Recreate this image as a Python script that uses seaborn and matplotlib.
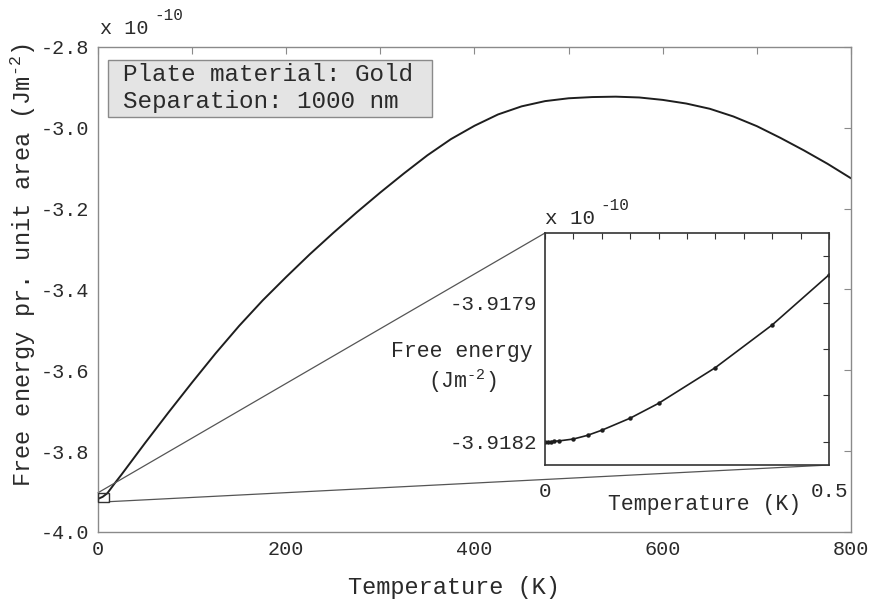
import numpy as np
import pandas as pd
import matplotlib
matplotlib.use("Agg")
import matplotlib.pyplot as plt
from matplotlib.patches import Rectangle, ConnectionPatch
import seaborn as sns

# Main curve: free energy (x 1e-10 J/m^2) vs temperature (K)
TEMP_K = [0, 5, 10, 18, 25, 50, 75, 100, 125, 150, 175, 200, 225, 250, 275, 300,
          325, 350, 375, 400, 425, 450, 475, 500, 525, 550, 575, 600, 625, 650,
          675, 700, 725, 750, 775, 800]
FREE_E = [-3.9182, -3.913, -3.904, -3.879, -3.858, -3.780, -3.704, -3.630, -3.558,
          -3.490, -3.427, -3.369, -3.313, -3.260, -3.209, -3.160, -3.113, -3.068,
          -3.028, -2.995, -2.967, -2.947, -2.934, -2.927, -2.924, -2.923, -2.925,
          -2.931, -2.940, -2.953, -2.972, -2.996, -3.025, -3.056, -3.089, -3.125]

# Inset: low temperature detail
INSET_T = [0, 0.005, 0.01, 0.015, 0.025, 0.05, 0.075, 0.1, 0.15, 0.2, 0.3, 0.4, 0.5]
INSET_E = [-3.918200, -3.918200, -3.918200, -3.918199, -3.918198, -3.918194,
           -3.918186, -3.918175, -3.918149, -3.918117, -3.918040, -3.917948,
           -3.917840]

# zoom box in main axes (data units)
BOX_T = (0, 12)
BOX_E = (-3.925, -3.903)

sns.set_style("white")
plt.rcParams['font.family'] = ['Liberation Mono', 'DejaVu Sans Mono']
plt.rcParams['mathtext.fontset'] = 'custom'
plt.rcParams['mathtext.rm'] = 'Liberation Mono'
plt.rcParams['mathtext.default'] = 'regular'
plt.rcParams['axes.unicode_minus'] = False

TXT = '#2a2a2a'
GRAY = '#8a8a8a'

fig = plt.figure(figsize=(8.74, 6.05), dpi=100)
ax = fig.add_axes([0.1121, 0.1207, 0.8616, 0.8017])

main_df = pd.DataFrame({"T": TEMP_K, "F": FREE_E})
sns.lineplot(data=main_df, x="T", y="F", ax=ax, color='#1e1e1e', linewidth=1.4)

ax.set_xlim(0, 800)
ax.set_ylim(-4.0, -2.8)
ax.set_xticks(np.arange(0, 801, 100))
ax.set_xticklabels([str(v) if v % 200 == 0 else "" for v in range(0, 801, 100)])
ax.set_yticks(np.arange(-4.0, -2.79, 0.2))
ax.set_yticklabels([f"{v:.1f}" for v in np.arange(-4.0, -2.79, 0.2)])
ax.tick_params(direction='in', length=5, width=0.8, color=GRAY, labelsize=14.5,
               labelcolor=TXT, top=True, right=True, pad=6)
for sp in ax.spines.values():
    sp.set_color(GRAY)
    sp.set_linewidth(1.0)

ax.set_xlabel("Temperature (K)", fontsize=17, color=TXT)
ax.xaxis.label.set_va('center')
ax.xaxis.set_label_coords(0.4728, -0.1155)
ax.set_ylabel(r"Free energy pr. unit area (Jm$^{\text{-2}}$)", fontsize=17, color=TXT)
ax.yaxis.label.set_va('center')
ax.yaxis.set_label_coords(-0.0996, 0.5505)

# "x 10^-10" scale marks
fig.text(100 / 874, 1 - 28 / 605, "x 10", fontsize=14.5, color=TXT, ha='left', va='center')
fig.text(154 / 874, 1 - 15 / 605, "-10", fontsize=11.5, color=TXT, ha='left', va='center')

# info box
ax.add_patch(Rectangle((0.0133, 0.8557), 0.4303, 0.1175, transform=ax.transAxes,
                       facecolor='#e4e4e4', edgecolor=GRAY, linewidth=1.0, zorder=3))
ax.text(0.0332, 0.944, "Plate material: Gold", transform=ax.transAxes,
        fontsize=17.5, color=TXT, va='center', ha='left', zorder=4)
ax.text(0.0332, 0.8866, "Separation: 1000 nm", transform=ax.transAxes,
        fontsize=17.5, color=TXT, va='center', ha='left', zorder=4)

# zoom box
ax.add_patch(Rectangle((BOX_T[0], BOX_E[0]), BOX_T[1] - BOX_T[0], BOX_E[1] - BOX_E[0],
                       facecolor='none', edgecolor='#333333', linewidth=1.0,
                       clip_on=False, zorder=4))

# inset
ax_in = fig.add_axes([0.6236, 0.2314, 0.325, 0.3835])
ax_in.set_facecolor('white')
inset_df = pd.DataFrame({"T": INSET_T, "F": INSET_E})
sns.lineplot(data=inset_df, x="T", y="F", ax=ax_in, color='#1e1e1e', linewidth=1.2,
             marker='o', markersize=3.2, markeredgewidth=0)
ax_in.set_xlim(0, 0.5)
ax_in.set_ylim(-3.91825, -3.91775)
ax_in.set_xticks(np.arange(0, 0.501, 0.05))
ax_in.set_xticklabels(["0"] + [""] * 9 + ["0.5"])
in_yt = [-3.9182, -3.9181, -3.9180, -3.9179, -3.9178]
ax_in.set_yticks(in_yt)
ax_in.set_yticklabels(["-3.9182", "", "", "-3.9179", ""])
ax_in.tick_params(direction='in', length=4, width=0.8, color='#333333', labelsize=15,
                  labelcolor=TXT, top=True, right=True)
ax_in.tick_params(axis='x', pad=12)
ax_in.tick_params(axis='y', pad=6)
for sp in ax_in.spines.values():
    sp.set_color('#333333')
    sp.set_linewidth(1.2)
ax_in.set_xlabel("Temperature (K)", fontsize=15.5, color=TXT)
ax_in.xaxis.label.set_va('center')
ax_in.xaxis.set_label_coords(0.563, -0.172)
ax_in.set_ylabel("Free energy\n" + r"(Jm$^{\text{-2}}$)", fontsize=15.5, color=TXT,
                 rotation=0, ha='center', va='center', multialignment='center')
ax_in.yaxis.set_label_coords(-0.292, 0.418)
fig.text(545 / 874, 1 - 218 / 605, "x 10", fontsize=15, color=TXT, ha='left', va='center')
fig.text(600 / 874, 1 - 205 / 605, "-10", fontsize=11.5, color=TXT, ha='left', va='center')

# connector lines from the zoom box to the inset
for xyA, xyB in [((BOX_T[0], BOX_E[1]), (0, 1)), ((BOX_T[1], BOX_E[0]), (1, 0))]:
    con = ConnectionPatch(xyA=xyA, coordsA=ax.transData, xyB=xyB, coordsB=ax_in.transAxes,
                          color='#555555', linewidth=0.9, zorder=2)
    ax.add_artist(con)

fig.savefig("out.png", dpi=100)
